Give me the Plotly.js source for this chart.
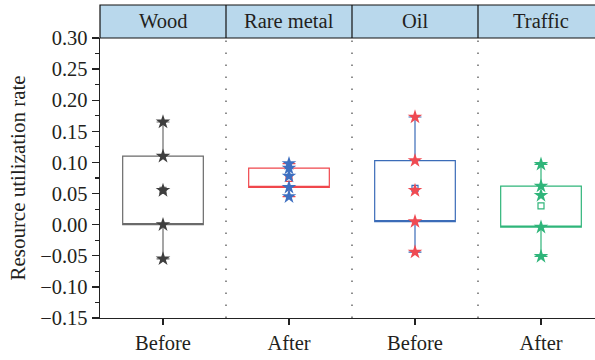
<!DOCTYPE html>
<html>
<head>
<meta charset="utf-8">
<script src="https://cdn.plot.ly/plotly-3.0.1.min.js"></script>
<style>html,body{margin:0;padding:0;background:#fff;overflow:hidden}</style>
</head>
<body>
<div id="chart" style="width:595px;height:360px"></div>
<script>
// ---- data ----
const categories = ['Wood', 'Rare metal', 'Oil', 'Traffic'];
const phases = ['Before', 'After', 'Before', 'After'];
const wood = [-0.055, 0.000, 0.055, 0.110, 0.165];
const rareMetal = [0.045, 0.060, 0.078, 0.091, 0.098];
const oil = [-0.044, 0.005, 0.055, 0.103, 0.173];
const traffic = [-0.051, -0.004, 0.047, 0.062, 0.097];
const yTickVals = [-0.15, -0.10, -0.05, 0.00, 0.05, 0.10, 0.15, 0.20, 0.25, 0.30];

// ---- styles ----
const series = [wood, rareMetal, oil, traffic];
const boxColors = ['#6a6a6a', '#f0474c', '#3b6cb8', '#2fb57a'];
const starColors = ['#3e3e3e', '#3e6fc0', '#ef4a52', '#2fb57a'];
const FONT = 'Liberation Serif, Times New Roman, serif';
const TXT = '#231f20';
const FS = 20.5;

function quantile(arr, p) {
  const s = arr.slice().sort((a, b) => a - b);
  const pos = (s.length - 1) * p;
  const lo = Math.floor(pos), hi = Math.ceil(pos);
  return s[lo] + (s[hi] - s[lo]) * (pos - lo);
}
const mean = a => a.reduce((s, v) => s + v, 0) / a.length;

const traces = [];
series.forEach((d, i) => {
  const q1 = quantile(d, 0.25), q3 = quantile(d, 0.75);
  traces.push({
    type: 'box', x: [i],
    q1: [q1], median: [q1], // reference draws no median line
    q3: [q3], lowerfence: [Math.min(...d)], upperfence: [Math.max(...d)],
    width: 0.64, whiskerwidth: 0.16, boxpoints: false,
    line: {color: boxColors[i], width: 1.2},
    fillcolor: 'rgba(255,255,255,0)',
    hoverinfo: 'skip', showlegend: false
  });
});
series.forEach((d, i) => {
  traces.push({
    type: 'scatter', mode: 'markers', x: [i], y: [mean(d)],
    marker: {symbol: 'square-open', size: 6, color: boxColors[i], line: {width: 1.2}},
    hoverinfo: 'skip', showlegend: false
  });
});
series.forEach((d, i) => {
  traces.push({
    type: 'scatter', mode: 'markers', x: d.map(() => i), y: d,
    marker: {symbol: 'star', size: 11, color: starColors[i], line: {width: 0}},
    showlegend: false
  });
});

const xr = [-0.5, 3.4286];
const toPaper = x => (x - xr[0]) / (xr[1] - xr[0]);
const headerTop = 1 + 33 / 280;
const headerMid = 1 + 16.5 / 280;

const shapes = [
  {type: 'rect', xref: 'paper', yref: 'paper', x0: 0, x1: 1.002, y0: 1, y1: headerTop,
   fillcolor: '#b9d8ec', line: {color: '#111', width: 1.2}, layer: 'above'}
];
[0.5, 1.5, 2.5].forEach(v => {
  shapes.push({type: 'line', xref: 'paper', yref: 'paper', x0: toPaper(v), x1: toPaper(v),
    y0: 1, y1: headerTop, line: {color: '#111', width: 1.2}});
  shapes.push({type: 'line', xref: 'x', yref: 'y', x0: v, x1: v, y0: -0.15, y1: 0.30,
    line: {color: '#444', width: 1.2, dash: '1.5px,10.5px'}, layer: 'below'});
});

const annotations = categories.map((c, i) => ({
  text: c, xref: 'x', yref: 'paper', x: i, y: headerMid, yanchor: 'middle',
  showarrow: false, font: {family: FONT, size: FS, color: TXT}
}));

const layout = {
  width: 595, height: 360,
  margin: {l: 100, r: 0, t: 38, b: 42},
  paper_bgcolor: '#fff', plot_bgcolor: '#fff',
  font: {family: FONT, color: TXT},
  showlegend: false,
  xaxis: {
    range: xr, tickvals: [0, 1, 2, 3], ticktext: phases,
    showgrid: false, zeroline: false, showline: true, linecolor: '#222', linewidth: 1.3,
    ticks: 'outside', ticklen: 6, tickwidth: 1.3, tickcolor: '#222',
    tickfont: {family: FONT, size: FS, color: TXT}
  },
  yaxis: {
    range: [-0.15, 0.30], tickvals: yTickVals, tickformat: '.2f',
    showgrid: false, zeroline: false, showline: true, linecolor: '#222', linewidth: 1.3,
    ticks: 'outside', ticklen: 7, tickwidth: 1.3, tickcolor: '#222',
    minor: {dtick: 0.025, tick0: 0, ticks: 'outside', ticklen: 4, tickwidth: 1.2, tickcolor: '#222', showgrid: false},
    tickfont: {family: FONT, size: FS, color: TXT},
    title: {text: 'Resource utilization rate', font: {family: FONT, size: 21, color: TXT}, standoff: 8}
  },
  shapes: shapes,
  annotations: annotations
};

Plotly.newPlot('chart', traces, layout, {displayModeBar: false, staticPlot: true});
</script>
</body>
</html>
